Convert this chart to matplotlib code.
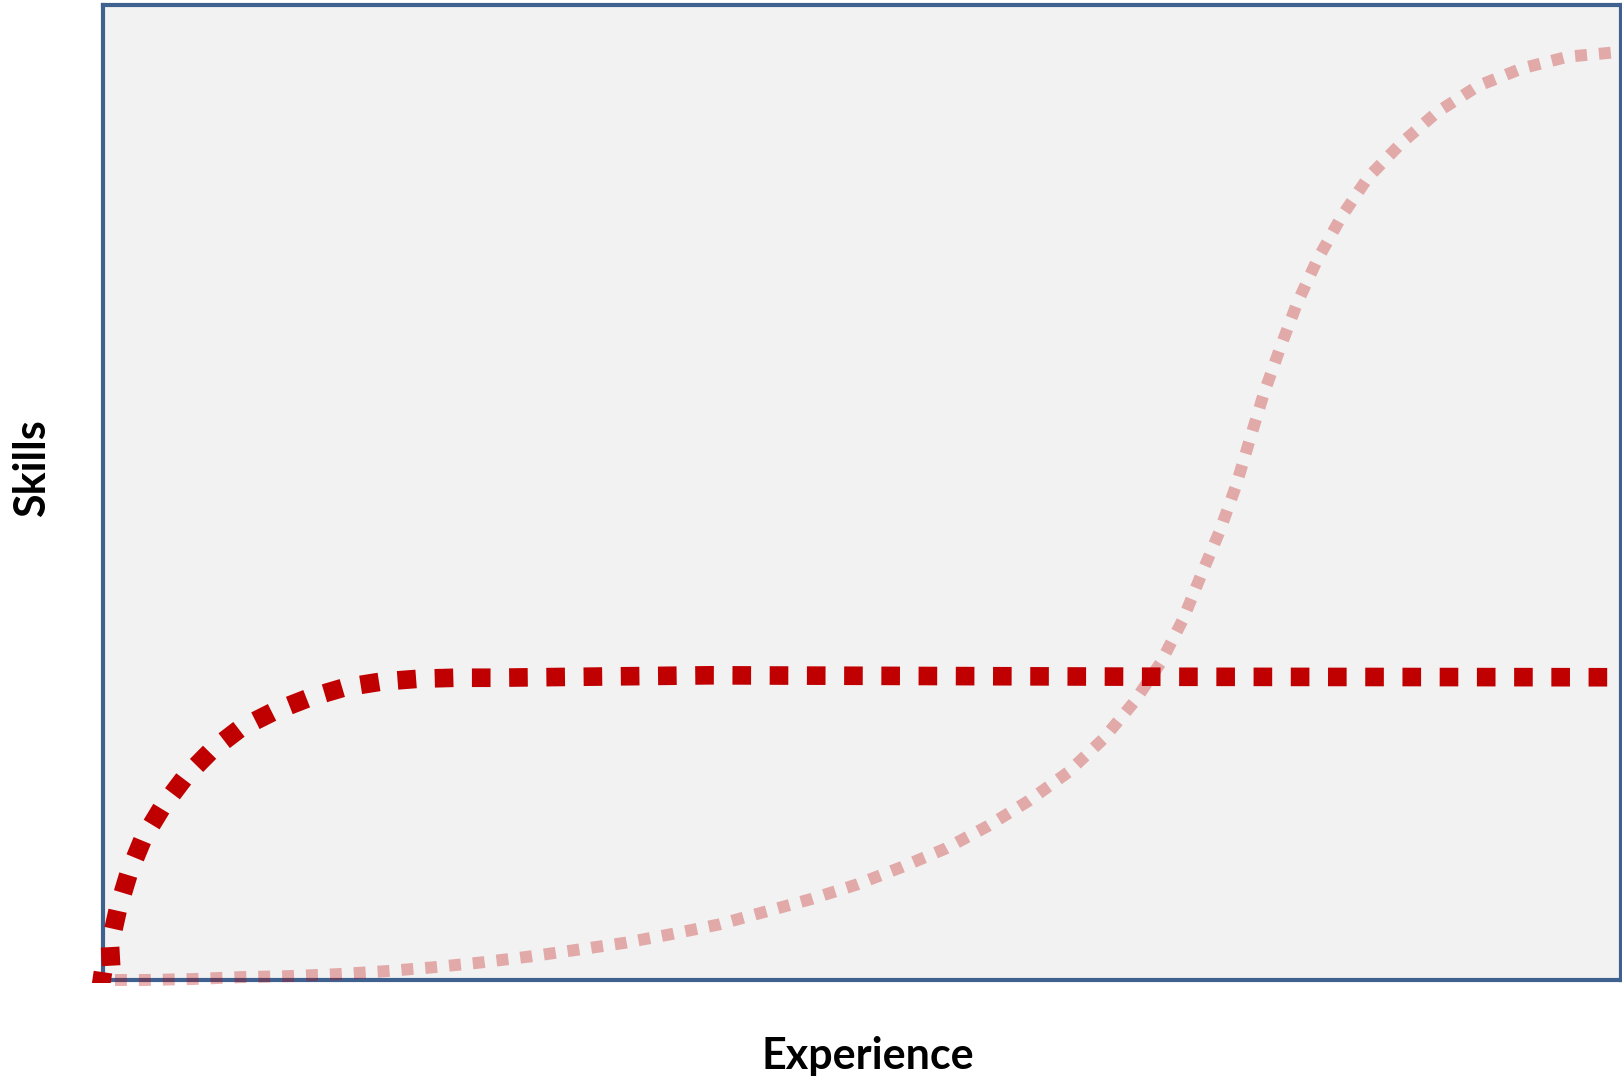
import matplotlib.pyplot as plt
from matplotlib.transforms import Bbox, TransformedBbox

# curves, axes units 0..1
fast_x = [-0.007, 0.006, 0.0046, 0.0099, 0.0171, 0.0264, 0.0389, 0.0540, 0.0711,
          0.0903, 0.1120, 0.1350, 0.1588, 0.1831, 0.2082, 0.2325, 0.2569, 0.40,
          0.70, 1.0]
fast_y = [0.000, -0.003, 0.036, 0.073, 0.110, 0.145, 0.177, 0.208, 0.235,
          0.258, 0.275, 0.289, 0.300, 0.306, 0.309, 0.310, 0.310, 0.3125,
          0.311, 0.3105]

slow_x = [0.0079, 0.0277, 0.0593, 0.0916, 0.1225, 0.1542, 0.1858, 0.2174, 0.2490,
          0.2806, 0.3123, 0.3432, 0.3742, 0.4058, 0.4361, 0.4664, 0.4967, 0.5264,
          0.5553, 0.5830, 0.6100, 0.6357, 0.6588, 0.6792, 0.6970, 0.7115, 0.7233,
          0.7358, 0.7464, 0.7556, 0.7648, 0.7754, 0.7866, 0.7997, 0.8155, 0.8333,
          0.8551, 0.8788, 0.9058, 0.9348, 0.9651, 1.0]
slow_y = [0.000, 0.000, 0.001, 0.003, 0.004, 0.006, 0.009, 0.013, 0.018,
          0.024, 0.031, 0.038, 0.047, 0.057, 0.070, 0.083, 0.098, 0.116,
          0.135, 0.158, 0.184, 0.213, 0.247, 0.285, 0.326, 0.370, 0.415,
          0.461, 0.507, 0.555, 0.602, 0.648, 0.694, 0.738, 0.782, 0.823,
          0.858, 0.890, 0.917, 0.935, 0.947, 0.952]

fig = plt.figure(figsize=(16.22, 10.78), dpi=100)
ax = fig.add_axes([0.0635, 0.0909, 0.9359, 0.9045])
ax.set_facecolor('#F2F2F2')

fast_line, = ax.plot(fast_x, fast_y, color='#C00000', linewidth=13.4, dashes=(1, 1),
                     dash_capstyle='butt', zorder=4)
# plot area in the source is cut at the bottom edge only
fast_line.set_clip_box(TransformedBbox(Bbox([[-0.05, -0.003], [1.05, 1.05]]), ax.transAxes))
ax.plot(slow_x, slow_y, color='#C00000', alpha=0.3, linewidth=8.6, dashes=(1, 1),
        dash_capstyle='butt', clip_on=False, zorder=5)

ax.set_xlim(0, 1)
ax.set_ylim(0, 1)
ax.set_xticks([])
ax.set_yticks([])
for s in ax.spines.values():
    s.set_color('#3F6190')
    s.set_linewidth(3)

fig.text(0.535, 0.0085, 'Experience', fontfamily='Lato', fontweight='bold',
         fontsize=31, ha='center', va='baseline')
fig.text(0.0277, 0.566, 'Skills', fontfamily='Lato', fontweight='bold',
         fontsize=31, rotation=90, rotation_mode='anchor',
         ha='center', va='baseline')

fig.savefig('out.png', dpi=100)
